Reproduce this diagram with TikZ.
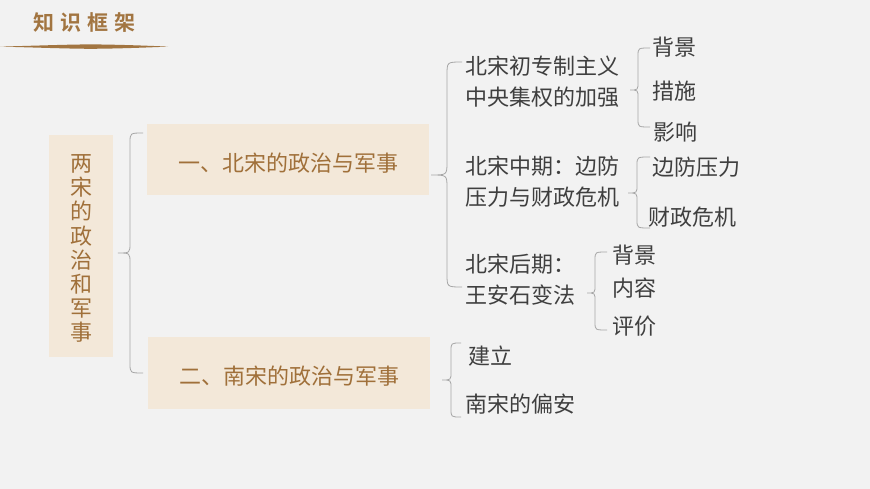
\documentclass[tikz,border=0pt]{standalone}
\usepackage{fontspec}
\newfontfamily\cjk{Noto Sans CJK SC}
\newfontfamily\cjkbold{Noto Sans CJK SC}[BoldFont={* Bold}]
\definecolor{bgc}{HTML}{F2F2F2}
\definecolor{boxc}{HTML}{F3E8D9}
\definecolor{brownc}{HTML}{A0703A}
\definecolor{titlec}{HTML}{A27541}
\definecolor{txtc}{HTML}{3F3F3F}
\definecolor{bracec}{HTML}{A6A6A6}
\tikzset{
  mybox/.style={fill=boxc, draw=none, inner sep=0pt},
  boxtext/.style={text=brownc, font=\cjk\fontsize{22}{24.1}\selectfont, inner sep=0pt, align=center},
  itemtext/.style={text=txtc, font=\cjk\fontsize{22}{31}\selectfont, inner sep=0pt, anchor=west, align=left},
  bracestyle/.style={draw=bracec, line width=0.8pt},
}
\newcommand\mybrace[7]{% tipx tipy vx ex ytop ybot r
  \draw[bracestyle] (#4,#5) .. controls (#3,#5) .. ({#3},{#5+#7}) -- ({#3},{#2-#7})
    .. controls (#3,#2) .. (#1,#2) .. controls (#3,#2) .. ({#3},{#2+#7})
    -- ({#3},{#6-#7}) .. controls (#3,#6) .. (#4,#6);}
\begin{document}
\begin{tikzpicture}[x=1pt,y=-1pt]
\fill[bgc] (0,0) rectangle (870,489);
\useasboundingbox (0,0) rectangle (870,489);
% title
\node[text=titlec, font=\cjkbold\bfseries\fontsize{21}{21}\selectfont, anchor=west, inner sep=0pt] (title) at (33,23) {知\hspace{6pt}识\hspace{6pt}框\hspace{6pt}架};
\fill[titlec] (0,46.6) .. controls (40,45.6) and (70,44.4) .. (92,44.4) .. controls (120,44.6) and (150,45.8) .. (168,46.6)
  .. controls (150,47.4) and (120,48.6) .. (92,48.8) .. controls (70,48.8) and (40,47.6) .. (0,46.6) -- cycle;
% boxes
\fill[boxc] (49,135) rectangle (113,357);
\node[boxtext] (root) at (81,248.5) {两\\宋\\的\\政\\治\\和\\军\\事};
\fill[boxc] (147,124) rectangle (429,195);
\node[boxtext] (n1) at (288,163) {一、北宋的政治与军事};
\fill[boxc] (148,337) rectangle (430,409);
\node[boxtext] (n2) at (289,376) {二、南宋的政治与军事};
% level 2
\node[itemtext] (a1) at (465,81.5) {北宋初专制主义\\中央集权的加强};
\node[itemtext] (a2) at (465,182) {北宋中期：边防\\压力与财政危机};
\node[itemtext] (a3) at (465,279.5) {北宋后期：\\王安石变法};
% level 3
\node[itemtext] (b1) at (652,47) {背景};
\node[itemtext] (b2) at (652,91) {措施};
\node[itemtext] (b3) at (653,132) {影响};
\node[itemtext] (c1) at (652,167) {边防压力};
\node[itemtext] (c2) at (648,217) {财政危机};
\node[itemtext] (d1) at (612,255) {背景};
\node[itemtext] (d2) at (612,288) {内容};
\node[itemtext] (d3) at (612,326) {评价};
\node[itemtext] (e1) at (468,356) {建立};
\node[itemtext] (e2) at (465,404) {南宋的偏安};
% braces
\mybrace{118}{253}{130}{143}{133}{373}{10}
\mybrace{431}{175}{447}{462}{62}{287}{13}
\mybrace{630}{90}{638}{650}{48}{127}{8}
\mybrace{628}{193}{637}{650}{157}{228}{8}
\mybrace{587}{293}{595}{607}{252}{330}{8}
\mybrace{442}{380}{451}{461}{343}{417}{8}
\end{tikzpicture}
\end{document}
